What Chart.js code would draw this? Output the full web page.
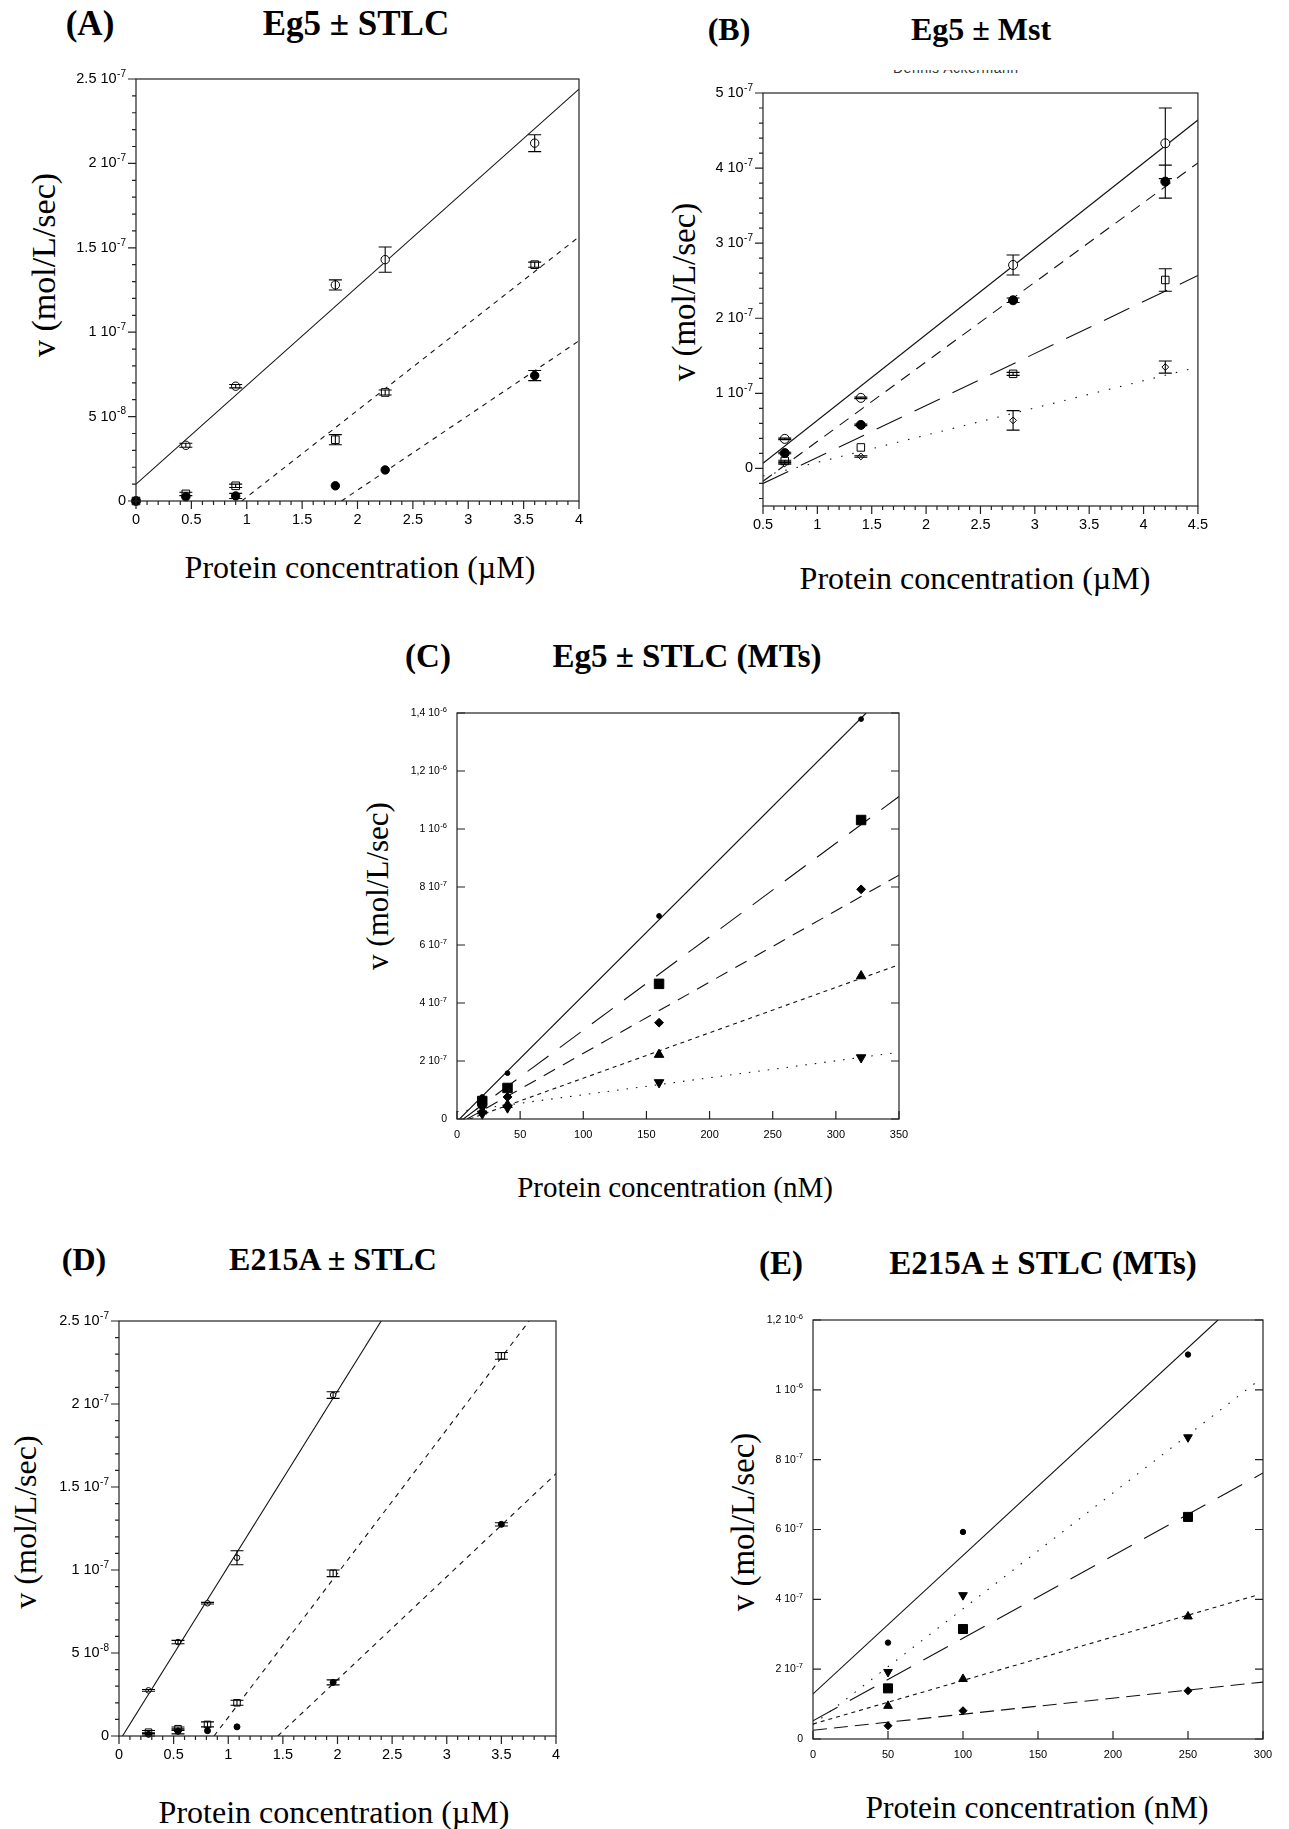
<!DOCTYPE html>
<html>
<head>
<meta charset="utf-8">
<title>Eg5 / E215A ATPase rates</title>
<script src="https://cdn.jsdelivr.net/npm/chart.js@4.4.1/dist/chart.umd.min.js"></script>
<style>
  body { margin: 0; background: #fff; }
  #fig { position: relative; width: 1289px; height: 1829px; overflow: hidden; background: #fff; }
  canvas { position: absolute; }
  .t { position: absolute; transform: translate(-50%, -50%); white-space: nowrap;
       font-family: "Liberation Serif", "Times New Roman", serif; color: #000; line-height: 1; }
  .b { font-weight: bold; font-size: 32px; }
  .yl { transform: translate(-50%, -50%) rotate(-90deg); }
  .ghost { position: absolute; left: 893px; top: 70px; width: 162px; height: 4px; overflow: hidden; }
  .ghost span { position: absolute; top: -10px; left: 0; font: 14px "Liberation Sans", Arial, sans-serif; color: #333; letter-spacing: 0.5px; }
</style>
</head>
<body>
<div id="fig">
  <div class="t b" style="left:90px;top:23px;font-size:35px">(A)</div>
  <div class="t b" style="left:356px;top:23px;font-size:35px">Eg5 ± STLC</div>
  <div class="t yl" style="left:44px;top:265px;font-size:34px">v (mol/L/sec)</div>
  <div class="t" style="left:360px;top:567px;font-size:32px">Protein concentration (µM)</div>

  <div class="t b" style="left:729px;top:29px">(B)</div>
  <div class="t b" style="left:981px;top:29px">Eg5 ± Mst</div>
  <div class="ghost"><span>Dennis Ackermann</span></div>
  <div class="t yl" style="left:684px;top:292px;font-size:33px">v (mol/L/sec)</div>
  <div class="t" style="left:975px;top:578px;font-size:32px">Protein concentration (µM)</div>

  <div class="t b" style="left:428px;top:656px;font-size:33px">(C)</div>
  <div class="t b" style="left:687px;top:656px;font-size:33px">Eg5 ± STLC (MTs)</div>
  <div class="t yl" style="left:377px;top:886px;font-size:31px">v (mol/L/sec)</div>
  <div class="t" style="left:675px;top:1187px;font-size:29px">Protein concentration (nM)</div>

  <div class="t b" style="left:84px;top:1259px">(D)</div>
  <div class="t b" style="left:333px;top:1259px">E215A ± STLC</div>
  <div class="t yl" style="left:25px;top:1522px;font-size:32px">v (mol/L/sec)</div>
  <div class="t" style="left:334px;top:1812px;font-size:32px">Protein concentration (µM)</div>

  <div class="t b" style="left:781px;top:1263px;font-size:33px">(E)</div>
  <div class="t b" style="left:1043px;top:1263px;font-size:33px">E215A ± STLC (MTs)</div>
  <div class="t yl" style="left:743px;top:1522px;font-size:33px">v (mol/L/sec)</div>
  <div class="t" style="left:1037px;top:1808px;font-size:31.5px">Protein concentration (nM)</div>

  <canvas id="cA"></canvas>
  <canvas id="cB"></canvas>
  <canvas id="cC"></canvas>
  <canvas id="cD"></canvas>
  <canvas id="cE"></canvas>
</div>

<script>
// ---- Panel A: Eg5 +/- STLC ----
const concA = [0, 0.45, 0.9, 1.8, 2.25, 3.6];
const vEg5A = [0, 3.3e-8, 6.8e-8, 1.28e-7, 1.43e-7, 2.12e-7];
const errEg5A = [0, 1.2e-9, 1.0e-9, 3.0e-9, 7.5e-9, 5.0e-9];
const vStlc1A = [0, 4.2e-9, 9.0e-9, 3.63e-8, 6.43e-8, 1.40e-7];
const errStlc1A = [0, 1.0e-9, 1.0e-9, 3.0e-9, 1.5e-9, 1.5e-9];
const vStlc2A = [0, 2.5e-9, 3.0e-9, 9.0e-9, 1.84e-8, 7.43e-8];
const errStlc2A = [0, 0, 1.5e-9, 0, 0, 3.0e-9];
const fitEg5A = { x: [0, 4], y: [1.0e-8, 2.44e-7] };
const fitStlc1A = { x: [0.955, 4], y: [0, 1.565e-7] };
const fitStlc2A = { x: [1.855, 4], y: [0, 9.49e-8] };
const xTicksA = [0, 0.5, 1, 1.5, 2, 2.5, 3, 3.5, 4];
const yTicksA = [0, 5e-8, 1e-7, 1.5e-7, 2e-7, 2.5e-7];

// ---- Panel B: Eg5 +/- Mst ----
const concB = [0.7, 1.4, 2.8, 4.2];
const vEg5B = [3.94e-8, 9.4e-8, 2.71e-7, 4.33e-7];
const errEg5B = [1.0e-9, 1.0e-9, 1.33e-8, 4.7e-8];
const vMst1B = [2.05e-8, 5.8e-8, 2.24e-7, 3.82e-7];
const errMst1B = [1.0e-9, 1.0e-9, 3.0e-9, 2.2e-8];
const vMst2B = [1.0e-8, 2.8e-8, 1.26e-7, 2.51e-7];
const errMst2B = [1.0e-9, 0, 2.0e-9, 1.5e-8];
const vMst3B = [6.7e-9, 1.6e-8, 6.4e-8, 1.35e-7];
const errMst3B = [1.0e-9, 1.0e-9, 1.3e-8, 8.0e-9];
const fitEg5B = { x: [0.5, 4.5], y: [7e-9, 4.64e-7] };
const fitMst1B = { x: [0.5, 4.5], y: [-1.7e-8, 4.07e-7] };
const fitMst2B = { x: [0.5, 4.5], y: [-2.0e-8, 2.57e-7] };
const fitMst3B = { x: [0.5, 4.5], y: [-1.0e-8, 1.35e-7] };
const xTicksB = [0.5, 1, 1.5, 2, 2.5, 3, 3.5, 4, 4.5];
const yTicksB = [0, 1e-7, 2e-7, 3e-7, 4e-7, 5e-7];

// ---- Panel C: Eg5 +/- STLC with microtubules ----
const concC = [20, 40, 160, 320];
const vC0 = [7.6e-8, 1.58e-7, 7.0e-7, 1.379e-6];
const vC1 = [6.2e-8, 1.07e-7, 4.66e-7, 1.031e-6];
const vC2 = [4.3e-8, 7.6e-8, 3.32e-7, 7.92e-7];
const vC3 = [2.7e-8, 4.9e-8, 2.22e-7, 4.93e-7];
const vC4 = [1.8e-8, 3.9e-8, 1.26e-7, 2.12e-7];
const fitC0 = { x: [2, 324], y: [0, 1.4e-6] };
const fitC1 = { x: [5, 350], y: [0, 1.112e-6] };
const fitC2 = { x: [8, 350], y: [0, 8.41e-7] };
const fitC3 = { x: [10, 350], y: [0, 5.32e-7] };
const fitC4 = { x: [0, 350], y: [2.5e-8, 2.3e-7] };
const xTicksC = [0, 50, 100, 150, 200, 250, 300, 350];
const yTicksC = [0, 2e-7, 4e-7, 6e-7, 8e-7, 1e-6, 1.2e-6, 1.4e-6];

// ---- Panel D: E215A +/- STLC ----
const concD0 = [0.27, 0.54, 0.81, 1.08, 1.96];
const concD = [0.27, 0.54, 0.81, 1.08, 1.96, 3.5];
const vD0 = [2.75e-8, 5.66e-8, 8.0e-8, 1.074e-7, 2.054e-7];
const errD0 = [0.5e-9, 1.0e-9, 0.5e-9, 4.2e-9, 2.0e-9];
const vD1 = [2.3e-9, 4.4e-9, 7.0e-9, 2.0e-8, 9.8e-8, 2.29e-7];
const errD1 = [1.0e-9, 1.0e-9, 1.5e-9, 1.5e-9, 2.0e-9, 2.0e-9];
const vD2 = [1.0e-9, 2.8e-9, 3.2e-9, 5.5e-9, 3.23e-8, 1.275e-7];
const errD2 = [1.0e-9, 1.5e-9, 0, 0, 1.5e-9, 1.0e-9];
const fitD0 = { x: [0.032, 2.4], y: [0, 2.5e-7] };
const fitD1 = { x: [0.87, 3.754], y: [0, 2.5e-7] };
const fitD2 = { x: [1.453, 4], y: [0, 1.58e-7] };
const xTicksD = [0, 0.5, 1, 1.5, 2, 2.5, 3, 3.5, 4];
const yTicksD = [0, 5e-8, 1e-7, 1.5e-7, 2e-7, 2.5e-7];

// ---- Panel E: E215A +/- STLC with microtubules ----
const concE = [50, 100, 250];
const vE0 = [2.76e-7, 5.93e-7, 1.101e-6];
const vE1 = [1.92e-7, 4.12e-7, 8.64e-7];
const vE2 = [1.45e-7, 3.15e-7, 6.36e-7];
const vE3 = [9.5e-8, 1.72e-7, 3.51e-7];
const vE4 = [3.8e-8, 8.1e-8, 1.38e-7];
const fitE0 = { x: [0, 270], y: [1.29e-7, 1.2e-6] };
const fitE1 = { x: [0, 295], y: [4.1e-8, 1.02e-6] };
const fitE2 = { x: [0, 300], y: [5.2e-8, 7.62e-7] };
const fitE3 = { x: [0, 296], y: [4.3e-8, 4.12e-7] };
const fitE4 = { x: [0, 300], y: [2.5e-8, 1.63e-7] };
const xTicksE = [0, 50, 100, 150, 200, 250, 300];
const yTicksE = [0, 2e-7, 4e-7, 6e-7, 8e-7, 1e-6, 1.2e-6];

// helpers
const pts = (xs, ys) => xs.map((x, i) => ({ x: x, y: ys[i] }));

function marks(xs, ys, errs, style, radius, filled, rot) {
  return {
    data: pts(xs, ys), errors: errs, showLine: false, order: 0, clip: false,
    pointStyle: style, pointRadius: radius, pointRotation: rot || 0,
    pointBackgroundColor: filled ? '#000' : '#fff',
    pointBorderColor: '#000', pointBorderWidth: 1
  };
}

function fitLine(f, dash) {
  return {
    data: pts(f.x, f.y), showLine: true, pointRadius: 0, order: 1,
    borderColor: '#111', borderWidth: 1.1, borderDash: dash || []
  };
}

// "2.5 10^-7" style label split into mantissa and exponent
function sciParts(v, dec) {
  if (Math.abs(v) < 1e-15) return { m: '0', e: '' };
  const e = Math.floor(Math.log10(Math.abs(v)) + 1e-9);
  const m = Math.round(v / Math.pow(10, e) * 10) / 10;
  return { m: String(m).replace('.', dec) + ' 10', e: String(e) };
}

// error bars drawn over the markers
const errorBars = {
  id: 'errorBars',
  afterDatasetsDraw(chart, args, o) {
    const { ctx, scales: { x, y } } = chart;
    const cap = o.cap || 6.5;
    ctx.save();
    ctx.strokeStyle = '#000';
    ctx.lineWidth = 1.1;
    ctx.beginPath();
    chart.data.datasets.forEach(ds => {
      if (!ds.errors) return;
      ds.data.forEach((p, i) => {
        const e = ds.errors[i];
        if (!e) return;
        const px = x.getPixelForValue(p.x);
        const y1 = y.getPixelForValue(p.y - e), y2 = y.getPixelForValue(p.y + e);
        ctx.moveTo(px, y1); ctx.lineTo(px, y2);
        ctx.moveTo(px - cap, y1); ctx.lineTo(px + cap, y1);
        ctx.moveTo(px - cap, y2); ctx.lineTo(px + cap, y2);
      });
    });
    ctx.stroke();
    ctx.restore();
  }
};

// box frame, tick marks and y labels with superscript exponents
const axisFrame = {
  id: 'axisFrame',
  afterDraw(chart, args, o) {
    const { ctx, chartArea: a, scales: { x, y } } = chart;
    const L = 8, m = 4;
    ctx.save();
    ctx.strokeStyle = '#222';
    ctx.lineWidth = 1.2;
    ctx.strokeRect(a.left, a.top, a.right - a.left, a.bottom - a.top);
    ctx.beginPath();
    x.ticks.forEach(t => {
      const p = x.getPixelForValue(t.value);
      ctx.moveTo(p, a.bottom);
      ctx.lineTo(p, o.inward ? a.bottom - L : a.bottom + L);
    });
    y.ticks.forEach(t => {
      const p = y.getPixelForValue(t.value);
      if (o.inward) {
        ctx.moveTo(a.left, p); ctx.lineTo(a.left + L, p);
        ctx.moveTo(a.right, p); ctx.lineTo(a.right - L, p);
      } else {
        ctx.moveTo(a.left, p); ctx.lineTo(a.left - L, p);
      }
    });
    if (o.minorX) {
      const i0 = Math.ceil(x.min / o.minorX - 1e-6), i1 = Math.floor(x.max / o.minorX + 1e-6);
      for (let i = i0; i <= i1; i++) {
        const p = x.getPixelForValue(i * o.minorX);
        ctx.moveTo(p, a.bottom); ctx.lineTo(p, a.bottom + m);
      }
    }
    if (o.minorY) {
      const i0 = Math.ceil(y.min / o.minorY - 1e-6), i1 = Math.floor(y.max / o.minorY + 1e-6);
      for (let i = i0; i <= i1; i++) {
        const p = y.getPixelForValue(i * o.minorY);
        ctx.moveTo(a.left, p); ctx.lineTo(a.left - m, p);
      }
    }
    ctx.stroke();

    ctx.fillStyle = '#000';
    ctx.textBaseline = 'middle';
    ctx.textAlign = 'right';
    y.ticks.forEach(t => {
      const p = y.getPixelForValue(t.value);
      const lab = sciParts(t.value, o.dec);
      let right = a.left - o.gap;
      if (lab.e) {
        ctx.font = o.sup + 'px "Liberation Sans", Arial, sans-serif';
        ctx.fillText(lab.e, right, p - o.raise);
        right -= ctx.measureText(lab.e).width + 0.5;
      }
      ctx.font = o.fs + 'px "Liberation Sans", Arial, sans-serif';
      ctx.fillText(lab.m, right, p);
    });
    ctx.restore();
  }
};

// plot rectangle (left, top, right, bottom) of each panel on the page
function makePanel(id, box, xr, yr, xTicks, yTicks, datasets, frame) {
  const padL = 110, padT = 20, padR = 20, padB = 40;
  const w = box[2] - box[0], h = box[3] - box[1];
  const cv = document.getElementById(id);
  cv.width = w + padL + padR;
  cv.height = h + padT + padB;
  cv.style.left = (box[0] - padL) + 'px';
  cv.style.top = (box[1] - padT) + 'px';
  return new Chart(cv, {
    type: 'scatter',
    data: { datasets: datasets },
    options: {
      responsive: false,
      animation: false,
      devicePixelRatio: 1,
      layout: { padding: { left: 0, top: padT, right: padR, bottom: 0 } },
      plugins: {
        legend: { display: false },
        tooltip: { enabled: false },
        errorBars: { cap: 6.5 },
        axisFrame: frame
      },
      scales: {
        x: {
          type: 'linear', min: xr[0], max: xr[1],
          afterBuildTicks: s => { s.ticks = xTicks.map(v => ({ value: v })); },
          ticks: {
            font: { family: 'Liberation Sans', size: frame.xfs },
            color: '#000', padding: frame.xpad, maxRotation: 0, autoSkip: false,
            callback: v => String(Math.round(v * 100) / 100)
          },
          grid: { display: false, drawTicks: false },
          border: { display: false },
          afterFit: s => { s.height = padB; }
        },
        y: {
          type: 'linear', min: yr[0], max: yr[1],
          afterBuildTicks: s => { s.ticks = yTicks.map(v => ({ value: v })); },
          ticks: { display: false },
          grid: { display: false, drawTicks: false },
          border: { display: false },
          afterFit: s => { s.width = padL; }
        }
      }
    },
    plugins: [errorBars, axisFrame]
  });
}

const outerBig = { inward: false, minorX: 0.1, minorY: 1e-8, dec: '.', fs: 14.5, sup: 10, raise: 5, gap: 10, xfs: 14.5, xpad: 10 };
const innerSmall = { inward: true, dec: ',', fs: 10.5, sup: 7.5, raise: 3.5, gap: 10, xfs: 11, xpad: 9 };

makePanel('cA', [136, 79, 579, 501], [0, 4], [0, 2.5e-7], xTicksA, yTicksA, [
  marks(concA, vStlc2A, errStlc2A, 'circle', 4.2, true),
  marks(concA, vStlc1A, errStlc1A, 'rect', 5.4, false),
  marks(concA, vEg5A, errEg5A, 'circle', 4.2, false),
  fitLine(fitEg5A),
  fitLine(fitStlc1A, [5, 5]),
  fitLine(fitStlc2A, [5, 5])
], outerBig);

makePanel('cB', [763, 93, 1198, 506], [0.5, 4.5], [-5e-8, 5e-7], xTicksB, yTicksB, [
  marks(concB, vMst1B, errMst1B, 'circle', 4.5, true),
  marks(concB, vMst2B, errMst2B, 'rect', 5.3, false),
  marks(concB, vMst3B, errMst3B, 'rectRot', 3.4, false),
  marks(concB, vEg5B, errEg5B, 'circle', 4.5, false),
  fitLine(fitEg5B),
  fitLine(fitMst1B, [11, 8]),
  fitLine(fitMst2B, [28, 14]),
  fitLine(fitMst3B, [1.5, 10])
], Object.assign({}, outerBig, { minorY: 2e-8 }));

makePanel('cC', [457, 713, 899, 1119], [0, 350], [0, 1.4e-6], xTicksC, yTicksC, [
  marks(concC, vC0, null, 'circle', 2.4, true),
  marks(concC, vC1, null, 'rect', 6.7, true),
  marks(concC, vC2, null, 'rectRot', 4.4, true),
  marks(concC, vC3, null, 'triangle', 5.5, true),
  marks(concC, vC4, null, 'triangle', 5.5, true, 180),
  fitLine(fitC0),
  fitLine(fitC1, [26, 14]),
  fitLine(fitC2, [13, 9]),
  fitLine(fitC3, [4, 4]),
  fitLine(fitC4, [1.5, 8])
], innerSmall);

makePanel('cD', [119, 1321, 556, 1736], [0, 4], [0, 2.5e-7], xTicksD, yTicksD, [
  marks(concD, vD2, errD2, 'circle', 3, true),
  marks(concD, vD1, errD1, 'rect', 4.6, false),
  marks(concD0, vD0, errD0, 'circle', 2.8, false),
  fitLine(fitD0),
  fitLine(fitD1, [5, 5]),
  fitLine(fitD2, [5, 5])
], outerBig);

makePanel('cE', [813, 1320, 1263, 1739], [0, 300], [0, 1.2e-6], xTicksE, yTicksE, [
  marks(concE, vE0, null, 'circle', 2.7, true),
  marks(concE, vE1, null, 'triangle', 5, true, 180),
  marks(concE, vE2, null, 'rect', 6.4, true),
  marks(concE, vE3, null, 'triangle', 5, true),
  marks(concE, vE4, null, 'rectRot', 4, true),
  fitLine(fitE0),
  fitLine(fitE1, [1.5, 9]),
  fitLine(fitE2, [28, 14]),
  fitLine(fitE3, [4, 4]),
  fitLine(fitE4, [14, 7])
], innerSmall);
</script>
</body>
</html>
